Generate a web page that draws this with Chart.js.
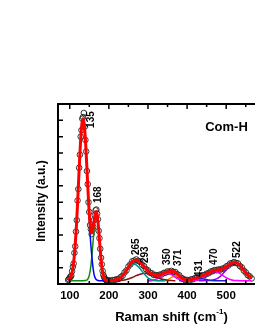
<!DOCTYPE html>
<html>
<head>
<meta charset="utf-8">
<script src="https://cdn.jsdelivr.net/npm/chart.js@4.4.0/dist/chart.umd.min.js"></script>
<style>
  html, body { margin: 0; padding: 0; background: #fff; overflow: hidden; }
  #wrap { width: 255px; height: 330px; overflow: hidden; }
</style>
</head>
<body>
<div id="wrap"><canvas id="chart" width="280" height="330"></canvas></div>
<script>
// measured spectrum (open circles)
const expX = [96,98,100,102,104,106,108,110,112,114,116,118,120,122,124,126,128,130,132,134,136,138,140,142,144,146,148,150,152,154,156,158,160,162,164,166,168,170,172,174,176,178,180,182,184,186,188,190,192,194,196,198,
  200,205,210,215,220,225,230,235,240,245,250,255,260,265,270,275,280,285,290,295,300,305,310,315,320,325,330,335,340,345,350,355,360,365,370,375,380,385,390,395,400,405,410,415,420,425,430,435,440,445,450,455,460,465,470,475,480,485,490,495,500,505,510,515,520,525,530,535,540,545,550,555,560,565];
const expY = [0.25,0.3,0.38,0.45,0.5,0.78,1.05,1.25,1.9,2.3,3.2,3.9,5.1,5.8,7.1,7.9,9.0,9.4,10.1,10.2,10.45,9.6,8.8,8.1,6.9,6.1,5.0,4.4,3.6,3.35,3.05,3.3,3.5,3.9,4.2,4.5,4.55,4.3,3.95,3.25,2.8,2.15,1.6,1.2,0.8,0.55,0.42,0.3,0.28,0.22,0.2,0.22,
  0.22,0.2,0.24,0.25,0.29,0.31,0.42,0.5,0.7,0.83,1.07,1.2,1.39,1.43,1.5,1.41,1.35,1.18,1.09,0.9,0.83,0.69,0.65,0.55,0.55,0.51,0.57,0.58,0.67,0.69,0.77,0.75,0.8,0.74,0.73,0.6,0.53,0.37,0.32,0.24,0.25,0.22,0.28,0.29,0.36,0.37,0.45,0.46,0.53,0.55,0.63,0.66,0.76,0.78,0.85,0.84,0.89,0.87,0.94,0.95,1.07,1.12,1.25,1.27,1.34,1.28,1.26,1.1,1.01,0.82,0.71,0.54,0.47,0.34];

// cumulative fit (red)
const fitX = [96,98,100,102,104,106,108,110,112,114,116,118,120,122,124,126,128,130,132,134,136,138,140,142,144,146,148,150,152,154,156,158,160,162,164,166,168,170,172,174,176,178,180,182,184,186,188,190,192,194,196,198,
  200,205,210,215,220,225,230,235,240,245,250,255,260,265,270,275,280,285,290,295,300,305,310,315,320,325,330,335,340,345,350,355,360,365,370,375,380,385,390,395,400,405,410,415,420,425,430,435,440,445,450,455,460,465,470,475,480,485,490,495,500,505,510,515,520,525,530,535,540,545,550,555,560,565];
const fitY = [0.24,0.27,0.33,0.41,0.53,0.71,0.97,1.32,1.79,2.38,3.11,3.96,4.92,5.94,6.98,7.97,8.84,9.52,9.95,10.1,9.95,9.52,8.85,7.99,7.03,6.03,5.1,4.29,3.67,3.27,3.12,3.2,3.46,3.81,4.15,4.38,4.43,4.24,3.86,3.32,2.7,2.08,1.53,1.09,0.76,0.53,0.38,0.29,0.25,0.22,0.21,0.2,
  0.2,0.21,0.22,0.24,0.27,0.32,0.4,0.52,0.67,0.85,1.04,1.22,1.36,1.45,1.47,1.43,1.33,1.21,1.07,0.93,0.81,0.71,0.63,0.57,0.53,0.53,0.55,0.6,0.65,0.71,0.745,0.77,0.78,0.76,0.71,0.62,0.51,0.39,0.31,0.26,0.24,0.24,0.26,0.3,0.34,0.38,0.43,0.47,0.51,0.56,0.61,0.68,0.74,0.79,0.83,0.86,0.87,0.89,0.92,0.97,1.05,1.14,1.22,1.29,1.32,1.3,1.24,1.13,0.99,0.84,0.69,0.56,0.45,0.36];

// fitted components
const p135X = [96,100,105,110,114,118,122,126,130,134,138,142,146,150,154,158,162,166,170,175,180,190,200];
const p135Y = [0.24,0.33,0.61,1.32,2.38,3.96,5.94,7.97,9.52,10.1,9.52,7.97,5.94,3.96,2.38,1.32,0.61,0.33,0.23,0.2,0.2,0.2,0.2];
const p168X = [100,130,140,146,150,154,158,162,166,168,170,174,178,182,186,190,196,205];
const p168Y = [0.2,0.2,0.21,0.29,0.53,1.09,2.08,3.3,4.17,4.3,4.17,3.3,2.08,1.09,0.53,0.29,0.21,0.2];
const p265X = [200,210,220,230,240,250,260,265,270,280,290,300,310,320,330,345];
const p265Y = [0.2,0.22,0.26,0.38,0.62,0.93,1.17,1.2,1.17,0.93,0.62,0.38,0.26,0.22,0.2,0.2];
const p293X = [215,230,240,250,260,270,280,292,300,310,320,330,340,350,360,370];
const p293Y = [0.2,0.22,0.25,0.31,0.4,0.51,0.6,0.65,0.63,0.55,0.44,0.34,0.27,0.23,0.21,0.2];
const p350X = [300,310,320,330,340,350,360,370,380,390,400,410];
const p350Y = [0.2,0.22,0.28,0.41,0.57,0.65,0.57,0.41,0.28,0.22,0.2,0.2];
const p371X = [300,340,350,355,360,365,371,377,382,387,392,400,410];
const p371Y = [0.2,0.21,0.26,0.32,0.4,0.46,0.5,0.46,0.4,0.32,0.26,0.22,0.2];
const p431X = [380,400,410,420,431,442,452,462,480,500];
const p431Y = [0.2,0.22,0.26,0.31,0.35,0.31,0.26,0.22,0.2,0.2];
const p470X = [400,410,420,430,440,450,460,470,480,490,500,510,520,530,545,565];
const p470Y = [0.2,0.21,0.22,0.28,0.38,0.54,0.69,0.76,0.69,0.54,0.38,0.28,0.22,0.21,0.2,0.2];
const p522X = [430,450,460,470,480,490,500,510,522,534,544,554,565];
const p522Y = [0.2,0.21,0.22,0.27,0.38,0.58,0.87,1.15,1.3,1.15,0.87,0.58,0.36];

// peak annotations
const peakNames = ['135','168','265','293','350','371','431','470','522'];
const peakTextX = [156,174,269,294,350,377,431,469,527];
const peakTextY = [9.54,4.95,1.77,1.28,1.16,1.1,0.43,1.16,1.59];

const xTicks = [100,200,300,400,500];

const pts = (xs, ys) => xs.map((v, i) => ({ x: v, y: ys[i] }));
const comp = (xs, ys, color) => ({
  data: pts(xs, ys), showLine: true, borderColor: color, borderWidth: 1.5,
  pointRadius: 0, cubicInterpolationMode: 'monotone', order: 1
});

const BOLD = 'bold 13px "Liberation Sans", Arial, sans-serif';

const framePlugin = {
  id: 'frame',
  afterDatasetsDraw(chart) {
    const { ctx, chartArea: a, scales: { x, y } } = chart;
    ctx.save();
    ctx.strokeStyle = '#000';
    ctx.lineWidth = 1.5;
    ctx.beginPath();
    for (let v = 100; v <= 600; v += 50) {
      const px = x.getPixelForValue(v);
      const len = v % 100 === 0 ? 5 : 3;
      ctx.moveTo(px, a.bottom); ctx.lineTo(px, a.bottom - len);
      ctx.moveTo(px, a.top); ctx.lineTo(px, a.top + len);
    }
    for (let v = 1; v < 11; v++) {
      const py = y.getPixelForValue(v);
      ctx.moveTo(a.left, py); ctx.lineTo(a.left + 5, py);
    }
    ctx.stroke();
    ctx.lineWidth = 2;
    ctx.strokeRect(a.left, a.top, a.right - a.left, a.bottom - a.top);

    // peak labels, rotated
    ctx.fillStyle = '#000';
    ctx.font = 'bold 10px "Liberation Sans", Arial, sans-serif';
    ctx.textAlign = 'left';
    ctx.textBaseline = 'middle';
    peakNames.forEach((t, i) => {
      ctx.save();
      ctx.translate(x.getPixelForValue(peakTextX[i]), y.getPixelForValue(peakTextY[i]));
      ctx.rotate(-Math.PI / 2);
      ctx.fillText(t, 0, 0);
      ctx.restore();
    });

    ctx.font = BOLD;
    ctx.textAlign = 'center';
    ctx.fillText('Com-H', 226.5, 127);
    ctx.restore();
  },
  afterDraw(chart) {
    const ctx = chart.ctx;
    ctx.save();
    ctx.fillStyle = '#000';
    ctx.textBaseline = 'middle';
    // x title with superscript
    const a = 'Raman shift (cm', sup = '-1', b = ')';
    ctx.font = BOLD;
    const wa = ctx.measureText(a).width, wb = ctx.measureText(b).width;
    ctx.font = 'bold 8px "Liberation Sans", Arial, sans-serif';
    const ws = ctx.measureText(sup).width;
    let sx = 171.5 - (wa + ws + wb) / 2;
    ctx.textAlign = 'left';
    ctx.font = BOLD;
    ctx.fillText(a, sx, 317);
    ctx.font = 'bold 8px "Liberation Sans", Arial, sans-serif';
    ctx.fillText(sup, sx + wa, 312);
    ctx.font = BOLD;
    ctx.fillText(b, sx + wa + ws, 317);
    // y title
    ctx.font = 'bold 12px "Liberation Sans", Arial, sans-serif';
    ctx.textAlign = 'center';
    ctx.translate(42, 201);
    ctx.rotate(-Math.PI / 2);
    ctx.fillText('Intensity (a.u.)', 0, 0);
    ctx.restore();
  }
};

new Chart(document.getElementById('chart'), {
  type: 'scatter',
  data: {
    datasets: [
      { data: pts(fitX, fitY), showLine: true, borderColor: '#ff0000', borderWidth: 3,
        pointRadius: 0, cubicInterpolationMode: 'monotone', order: 0 },
      comp(p135X, p135Y, '#0000ff'),
      comp(p168X, p168Y, '#138a13'),
      comp(p265X, p265Y, '#009090'),
      comp(p293X, p293Y, '#8b1010'),
      comp(p350X, p350Y, '#ff00ff'),
      comp(p371X, p371Y, '#ff8c00'),
      comp(p431X, p431Y, '#2020c8'),
      comp(p470X, p470Y, '#ff00ff'),
      comp(p522X, p522Y, '#8a00ff'),
      { data: pts(expX, expY), showLine: false, pointRadius: 2.8, pointBorderWidth: 0.9,
        pointBorderColor: '#222', pointBackgroundColor: 'rgba(255,255,255,0)', order: 2 }
    ]
  },
  options: {
    responsive: false,
    animation: false,
    devicePixelRatio: 1,
    layout: { padding: { top: 104, left: 0, right: 0, bottom: 0 } },
    plugins: { legend: { display: false }, tooltip: { enabled: false } },
    scales: {
      x: {
        type: 'linear', min: 70, max: 625,
        grid: { display: false, drawTicks: false }, border: { display: false },
        ticks: {
          padding: 5, color: '#000', autoSkip: false, maxRotation: 0,
          font: { family: '"Liberation Sans", Arial, sans-serif', weight: 'bold', size: 11.5 }
        },
        afterBuildTicks: s => { s.ticks = xTicks.map(v => ({ value: v })); },
        afterFit: s => { s.height = 46; }
      },
      y: {
        min: 0, max: 11,
        grid: { display: false, drawTicks: false }, border: { display: false },
        ticks: { display: false },
        afterFit: s => { s.width = 58; }
      }
    }
  },
  plugins: [framePlugin]
});
</script>
</body>
</html>
